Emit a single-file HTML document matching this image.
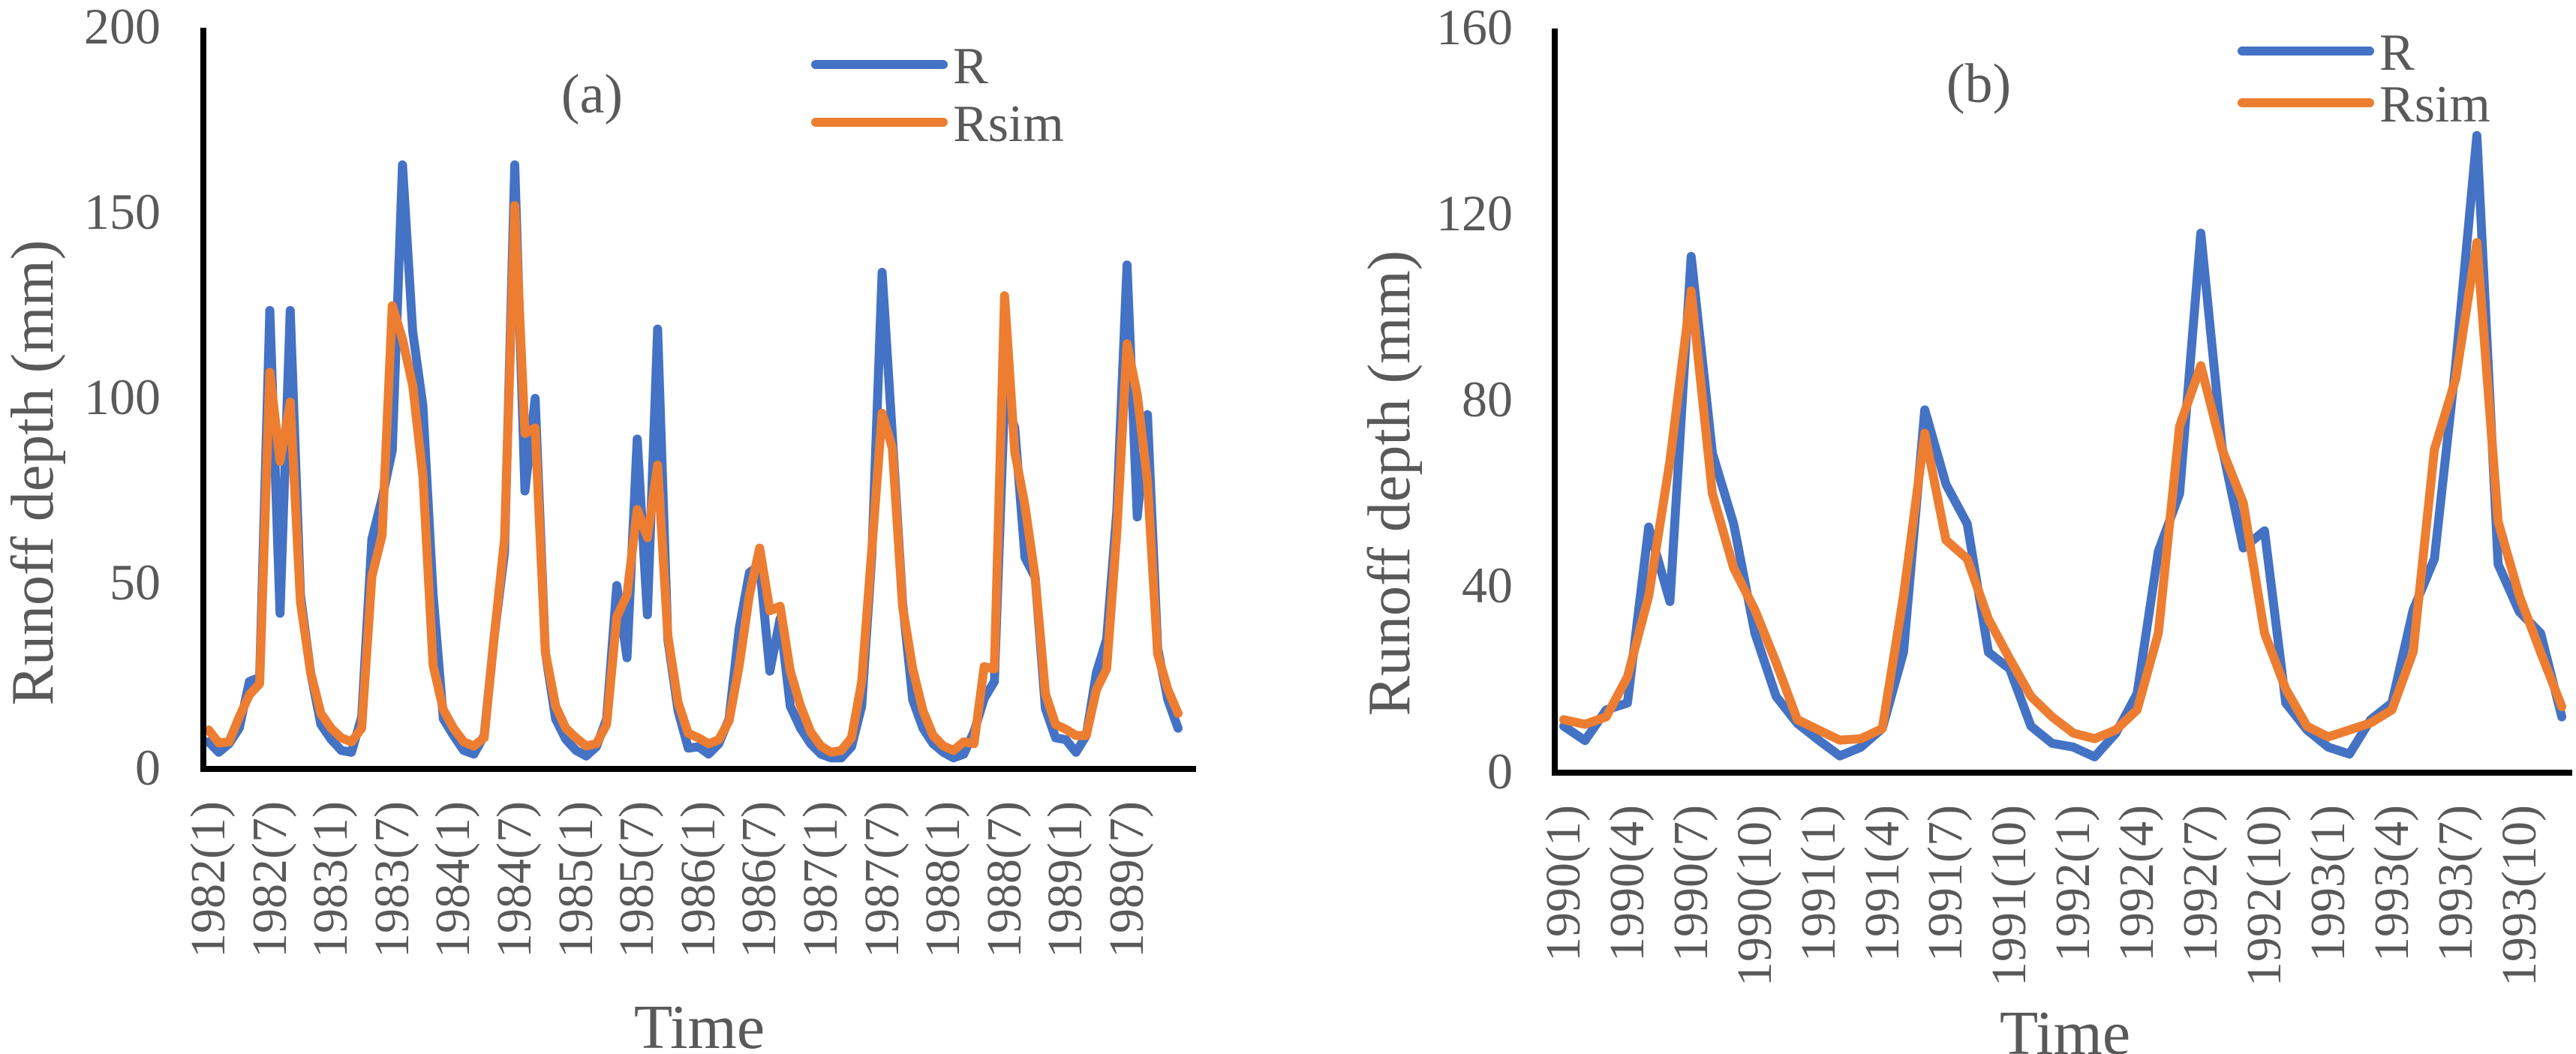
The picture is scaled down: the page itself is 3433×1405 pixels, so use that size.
<!DOCTYPE html>
<html><head><meta charset="utf-8"><style>
html,body{margin:0;padding:0;background:#fff;}
#wrap{position:relative;width:3433px;height:1405px;overflow:hidden;}
svg{display:block;position:absolute;left:0;top:0;}
.t{position:absolute;white-space:nowrap;font-family:"Liberation Serif","DejaVu Serif",serif;color:#595959;line-height:1;}
</style></head><body>
<div id="wrap">
<svg id="chart" width="3433" height="1405" viewBox="0 0 3433 1405" xmlns="http://www.w3.org/2000/svg"></svg>
</div>
<script>
// Panel (a) data: monthly 1982(1)-1989(12)
const aR = [7.3,4.5,6.8,11,23.6,24.7,123.7,42,123.7,47,26,12,8,5,4.5,14,62,73,86,163,118,98,47,13.5,9,5,4,9,36,58.5,163,75,100,31.5,13.5,8,5,3.5,6,13.5,49.5,30,89,41.6,118.7,35,15.7,5.6,6,4,6.8,13.5,38,53,55,26.4,40.5,16.9,11,6.8,4,3,3,6,17,58,134,90,45,18.6,11,6.8,4.5,3,4,10,19,23.6,100,92,57,51.7,16.3,8.4,7.9,4.5,9,26,35,69.7,136,68,95.6,32.6,18.6,11];
const aRsim = [10.5,7,7.3,14,20,23,107,83,99,45,26,15,11,8.4,7.3,11,52,63,125,116,103.5,79,28,16,11,7.3,6.2,8.4,36,62,152,90.5,92,31.5,17,11,8.4,6.2,6.8,12,41,47,70,62.4,82,36,18,9.6,8.4,6.8,7.9,13,28,47,59.6,42.7,43.9,26.4,17,10,6.2,4.5,5,8.4,23.6,59.6,96,86.6,43.9,27,15.7,9,6.2,5,7.3,6.8,27.6,27,127.7,85.5,71,51.7,20.3,12,10.7,9,9,21.4,27,64,114.7,101,77.6,31,21.4,15];
const aTicks = ["1982(1)","1982(7)","1983(1)","1983(7)","1984(1)","1984(7)","1985(1)","1985(7)","1986(1)","1986(7)","1987(1)","1987(7)","1988(1)","1988(7)","1989(1)","1989(7)"];
const aYTicks = [0,50,100,150,200];
// Panel (b) data: monthly 1990(1)-1993(12)
const bR = [10,6.9,13.5,15,52.8,36.8,111,68.7,53.5,30,16.4,10.6,7,3.6,5.5,9.5,25.9,78,62,53.5,25.9,22.3,10,6.3,5.5,3.4,8.5,17,47.6,60,116,70,48.3,52,15,9.2,5.5,4,11.4,15,35,46,87.6,137,44.8,34.6,30,12];
const bRsim = [11.4,10.4,12,20.6,38,67,103.6,60,44,35,23.7,11.4,9.2,7,7.3,9.5,38,73,50,46,33,24.5,16.4,12,8.5,7.3,9.2,13.5,30,74.5,87.5,69.5,58,30,18,10,7.7,9.2,10.7,13.5,26,69.5,84.6,114,54,38,25.9,14.2];
const bTicks = ["1990(1)","1990(4)","1990(7)","1990(10)","1991(1)","1991(4)","1991(7)","1991(10)","1992(1)","1992(4)","1992(7)","1992(10)","1993(1)","1993(4)","1993(7)","1993(10)"];
const bYTicks = [0,40,80,120,160];

const NS = "http://www.w3.org/2000/svg";
const svg = document.getElementById('chart');
const wrap = document.getElementById('wrap');
function mk(tag, attrs, parent){
  const e = document.createElementNS(NS, tag);
  for (const k in attrs) e.setAttribute(k, attrs[k]);
  (parent||svg).appendChild(e);
  return e;
}
function txt(content, size, css){
  const d = document.createElement('div');
  d.className = 't';
  d.style.fontSize = size + 'px';
  for (const k in css) d.style[k] = css[k];
  d.textContent = content;
  wrap.appendChild(d);
  return d;
}
const BLUE = "#4472C4", ORANGE = "#ED7D31";

function panel(cfg){
  const g = mk('g', {});
  
  
  const xs = i => cfg.x0 + cfg.first + i*cfg.step;
  const ys = v => cfg.yZero - (v/cfg.yMax)*(cfg.yZero - cfg.yTop);
  cfg.yTicks.forEach(t => {
    const d = txt(String(t), 68, {right:(3433-cfg.yLabelX)+'px', top:(ys(t)-36)+'px', textAlign:'right'});
    
    
  });
  cfg.xTicks.forEach((t, k) => {
    const x = xs(k*cfg.tickEvery);
    const d = txt(t, 66, {right:(3433-x)+'px', top:(cfg.labelTop-33)+'px', height:'66px', transformOrigin:'100% 50%', transform:'rotate(-90deg)'});
    
    
  });
  [[cfg.r, BLUE, 'series-r-line'], [cfg.sim, ORANGE, 'series-rsim-line']].forEach(([arr, col, nm]) => {
    const dd = arr.map((v,i) => (i?'L':'M') + xs(i).toFixed(1) + ' ' + ys(v).toFixed(1)).join(' ');
    const p = mk('path', {d:dd, fill:'none', stroke:col, 'stroke-width':12, 'stroke-linejoin':'round', 'stroke-linecap':'round'}, g);
    
    
  });
  const ax = mk('path', {d:`M${cfg.x0} ${cfg.yTop} L${cfg.x0} ${cfg.yZero} L${cfg.x1} ${cfg.yZero}`, fill:'none', stroke:'#000', 'stroke-width':8}, g);
  
  
  const yt = txt('Runoff depth (mm)', 80, {left:(cfg.yTitleX-500)+'px', top:(cfg.yTitleY-40)+'px', width:'1000px', height:'80px', textAlign:'center', transform:'rotate(-90deg)'});
  
  
  const xt = txt('Time', 84, {left:(cfg.xTitleX-200)+'px', top:(cfg.xTitleY-62)+'px', width:'400px', textAlign:'center'});
  
  
  const pl = txt(cfg.label, 74, {left:(cfg.panelX-100)+'px', top:(cfg.panelY-56)+'px', width:'200px', textAlign:'center'});
  
  
  [['R', BLUE, cfg.legY1], ['Rsim', ORANGE, cfg.legY2]].forEach(([t, col, y]) => {
    const ln = mk('line', {x1:cfg.legX, y1:y, x2:cfg.legX+170, y2:y, stroke:col, 'stroke-width':12, 'stroke-linecap':'round'}, g);
    
    
    const d = txt(t, 70, {left:(cfg.legX+183)+'px', top:(y-32)+'px'});
    
    
  });
}

panel({name:'panel-a', label:'(a)', x0:271, x1:1594, first:7, step:13.6, yTop:37, yZero:1025, yMax:200,
  yTicks:aYTicks, xTicks:aTicks, tickEvery:6, r:aR, sim:aRsim, yLabelX:214, labelTop:1068,
  yTitleX:44, yTitleY:630, xTitleX:932, xTitleY:1390, panelX:789, panelY:145, legX:1087, legY1:86, legY2:163});
panel({name:'panel-b', label:'(b)', x0:2072, x1:3428, first:12, step:28.3, yTop:38, yZero:1030, yMax:160,
  yTicks:bYTicks, xTicks:bTicks, tickEvery:3, r:bR, sim:bRsim, yLabelX:2016, labelTop:1073,
  yTitleX:1852, yTitleY:644, xTitleX:2752, xTitleY:1398, panelX:2637, panelY:131, legX:2988, legY1:68, legY2:137});
</script>
</body></html>
